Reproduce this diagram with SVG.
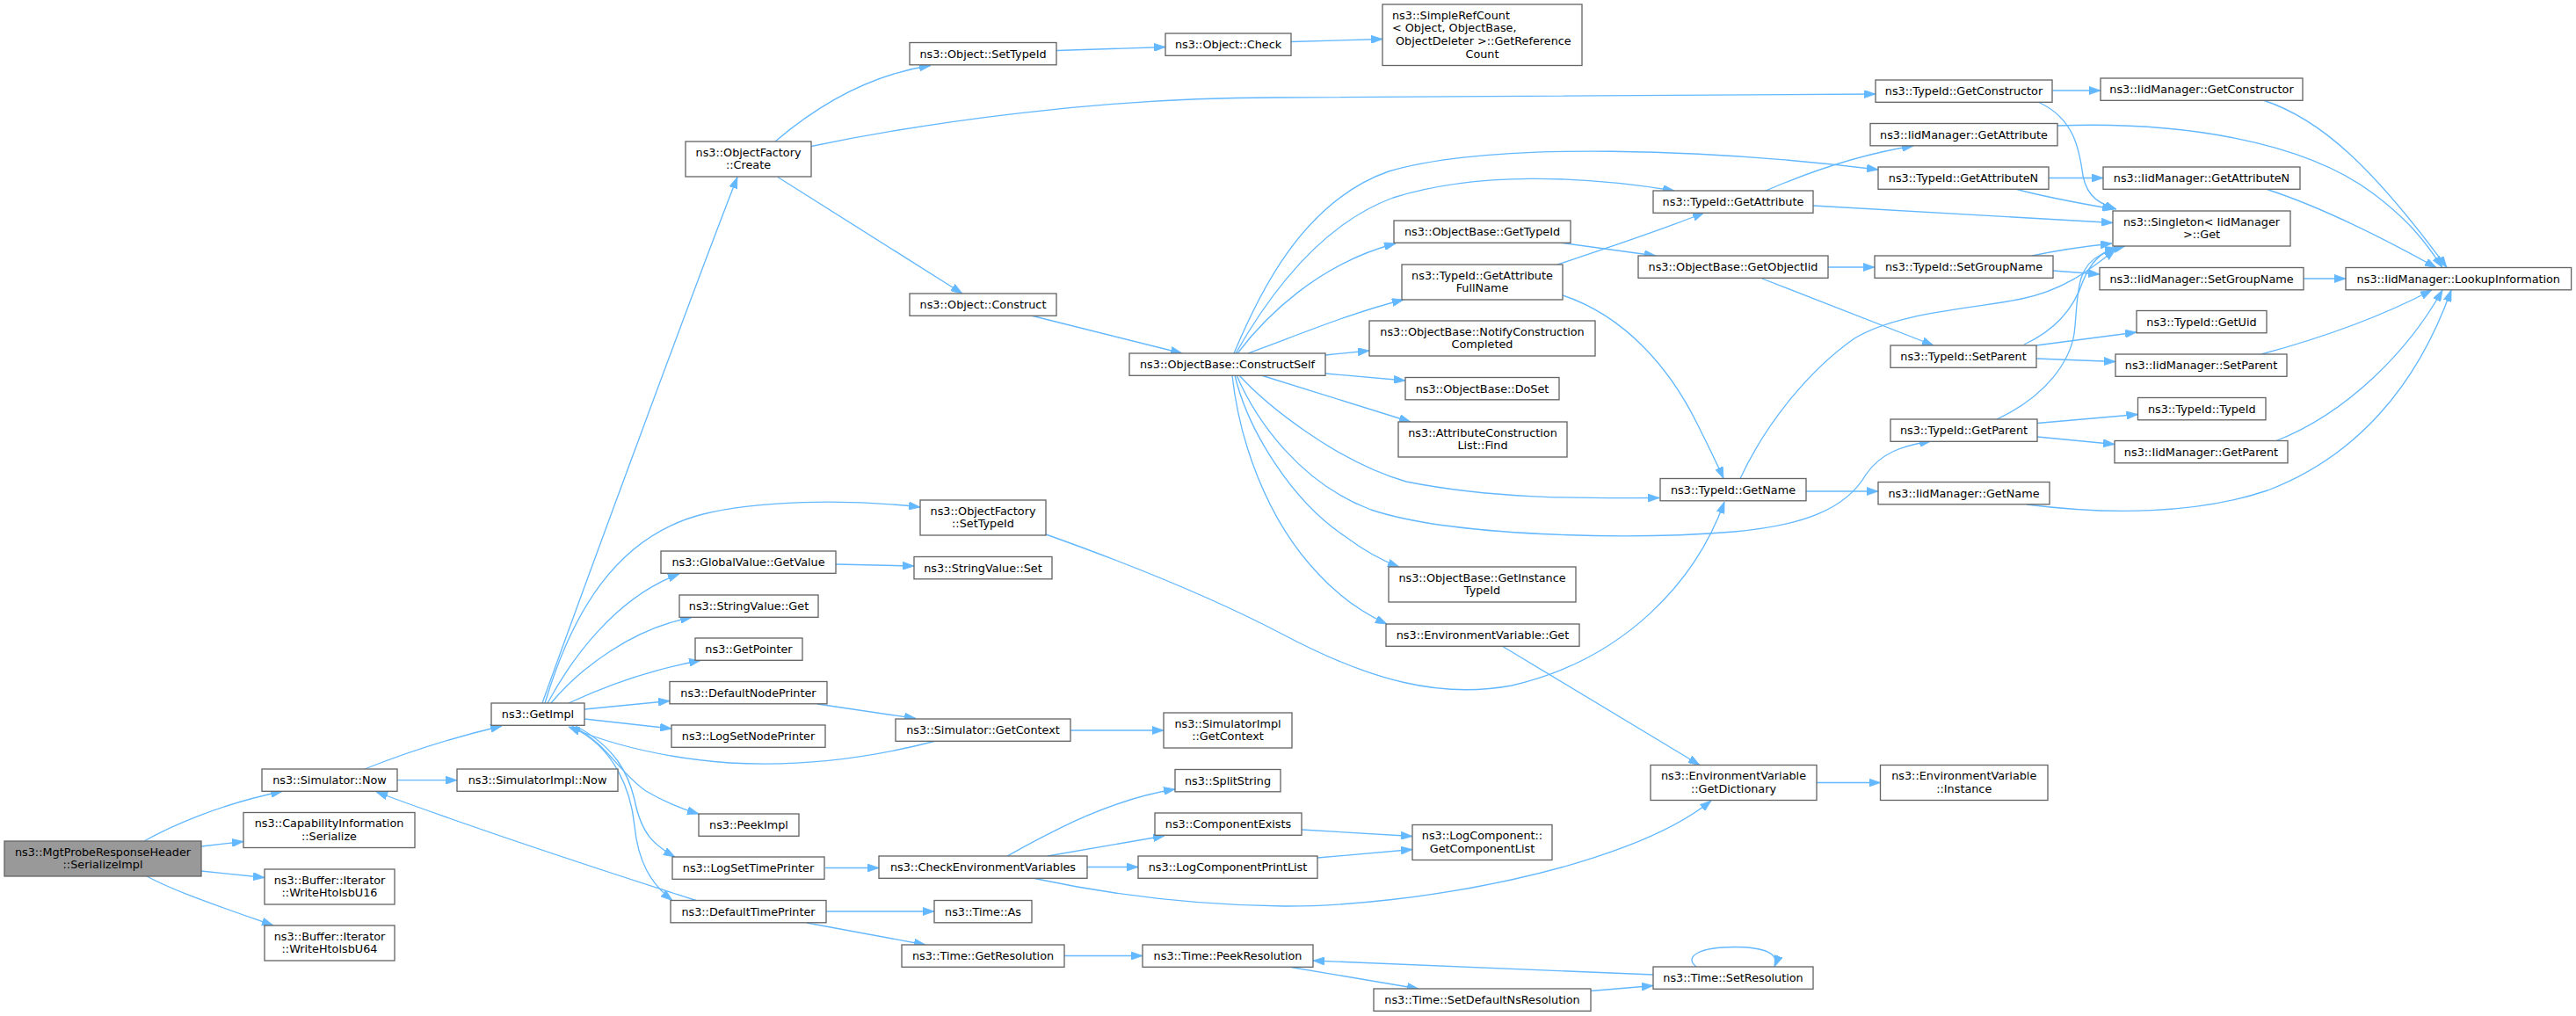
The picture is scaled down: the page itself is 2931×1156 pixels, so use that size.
<svg xmlns="http://www.w3.org/2000/svg" width="2931" height="1156" viewBox="0 0 2931 1156">
<defs>
<style>
.n rect{fill:#ffffff;stroke:#666666;stroke-width:1.33}
.root rect{fill:#999999}
text{font-family:"DejaVu Sans","Liberation Sans",sans-serif;font-size:12.8px;fill:#000000;text-anchor:middle}
text.l{text-anchor:start}
.e path{fill:none;stroke:#63b8ff;stroke-width:1.33;marker-end:url(#ah)}
</style>
<marker id="ah" viewBox="0 0 10 7" refX="10" refY="3.5" markerUnits="userSpaceOnUse" markerWidth="13" markerHeight="9.1" orient="auto">
<path d="M0,0 L10,3.5 L0,7 z" fill="#63b8ff" stroke="#63b8ff" stroke-width="0.6"/>
</marker>
</defs>
<rect x="0" y="0" width="2931" height="1156" fill="#ffffff"/>
<g id="edges" class="e">
<path d="M164,957 C194,940 250,915 321,900.5"/>
<path d="M229,963 L277,957.5"/>
<path d="M229,991 L301,998.5"/>
<path d="M167,997 C200,1015 260,1035 311,1053"/>
<path d="M415,875 C460,857 520,838 571,826"/>
<path d="M452,887.7 L520,887.7"/>
<path d="M617,800 C660,680 800,300 839,201.5"/>
<path d="M620,800 C650,700 700,610 800,585 C860,570 960,567 1047,577"/>
<path d="M623,800 C650,750 700,680 773,653"/>
<path d="M627,800 C660,760 720,715 787,702.5"/>
<path d="M647,800 C690,780 740,762 797,751.5"/>
<path d="M665,807 L762,797.5"/>
<path d="M665,818 L764,829"/>
<path d="M1063,843.5 C980,865 900,872 830,868 C750,862 690,845 647,827"/>
<path d="M651,826 C690,845 705,880 735,900 C755,912 775,920 795,926"/>
<path d="M655,826 C700,850 715,880 722,910 C730,950 745,962 768,975"/>
<path d="M650,827 C700,850 718,900 722,940 C726,980 740,1005 765,1024.5"/>
<path d="M792,1024.5 C700,995 560,950 428,901"/>
<path d="M882,161 C930,120 990,85 1059,74.5"/>
<path d="M923,166.5 C1050,140 1250,111 1450,111 C1700,111 1950,108 2134,107"/>
<path d="M885,201.5 L1095,334"/>
<path d="M1202,57.5 L1326,53.5"/>
<path d="M1469,47.5 L1573,44.5"/>
<path d="M1173,359 L1345,402"/>
<path d="M1404,402 C1430,340 1480,230 1580,195 C1700,160 1950,170 2137,193"/>
<path d="M1406,402 C1430,360 1490,260 1585,225 C1680,195 1800,200 1905,217"/>
<path d="M1408,402 C1440,360 1500,300 1588,277"/>
<path d="M1420,402 C1480,380 1540,355 1597,341"/>
<path d="M1508,404 L1558,399"/>
<path d="M1508,425 L1599,433"/>
<path d="M1435,427 C1500,447 1560,466 1605,480"/>
<path d="M1410,427 C1440,460 1520,525 1600,548 C1700,568 1800,567 1888,566.5"/>
<path d="M1407,427 C1430,480 1480,550 1560,580 C1650,610 1850,615 1973,605 C2050,598 2100,580 2123,540 C2140,515 2165,507 2197,502"/>
<path d="M1405,427 C1420,490 1470,570 1530,610 C1550,625 1570,637 1592,645"/>
<path d="M1402,427 C1410,500 1440,590 1500,653 C1525,680 1550,697 1578,710"/>
<path d="M1190,608 C1280,640 1380,680 1460,722 C1560,775 1640,795 1720,780 C1850,750 1930,660 1962,571"/>
<path d="M1772,301 C1820,285 1890,262 1939,242"/>
<path d="M1778,336 C1850,360 1900,420 1930,480 C1945,510 1955,530 1961,544.5"/>
<path d="M1774,276 L1884,291"/>
<path d="M2009,217 C2060,195 2120,175 2177,166"/>
<path d="M2063,234 L2404,253.5"/>
<path d="M2080,304 L2133,304"/>
<path d="M2005,317 L2200,393"/>
<path d="M2055,559 L2137,559"/>
<path d="M1980,544.5 C2010,480 2060,420 2110,385 C2160,355 2240,352 2300,340 C2350,330 2380,305 2407,284"/>
<path d="M2320,116.5 C2360,135 2366,170 2370,200 C2375,225 2390,232 2408,238"/>
<path d="M2293,215 C2330,225 2370,232 2405,238"/>
<path d="M2312,291 C2340,285 2375,280 2403,277"/>
<path d="M2303,392 C2340,375 2360,350 2370,320 C2380,295 2395,285 2408,282"/>
<path d="M2272,477 C2330,450 2355,410 2360,380 C2365,340 2360,305 2390,290 C2400,284 2410,282 2418,280"/>
<path d="M2317,393 L2431,378"/>
<path d="M2317,408 L2407,411.5"/>
<path d="M2318,481.5 L2432.5,471.5"/>
<path d="M2318,497 L2406,505.5"/>
<path d="M2335.5,103 L2390,103"/>
<path d="M2331,202.5 L2393,202.5"/>
<path d="M2336,308 L2389,312"/>
<path d="M2306,574 C2400,586 2500,585 2580,558 C2680,520 2750,440 2789,330"/>
<path d="M2575,114 C2640,135 2700,190 2784,304.5"/>
<path d="M2341,143 C2480,138 2620,160 2700,220 C2740,250 2760,275 2779,304.5"/>
<path d="M2578,215 C2640,235 2710,270 2772,304.5"/>
<path d="M2621,317 L2669,317"/>
<path d="M2573,403 C2640,385 2710,360 2767,330"/>
<path d="M2590,501.5 C2670,470 2740,400 2779,330"/>
<path d="M951,642 L1040,644"/>
<path d="M930,801 L1042,817.5"/>
<path d="M1218,831 L1324,831"/>
<path d="M939,987.5 L1000,987.5"/>
<path d="M1146,974 C1190,950 1260,910 1337,898"/>
<path d="M1192,974 L1325,951"/>
<path d="M1237,986.5 L1295,986.5"/>
<path d="M1177,999.5 C1250,1015 1350,1030 1460,1031 C1600,1032 1850,990 1947,911"/>
<path d="M1481,944 L1607,951.5"/>
<path d="M1499,976 L1607,966.5"/>
<path d="M1709,735 L1934,870.5"/>
<path d="M2067,890.5 L2139.5,890.5"/>
<path d="M940,1037 L1063,1037"/>
<path d="M918,1050 L1053,1075"/>
<path d="M1211,1087.5 L1300,1087.5"/>
<path d="M1469,1100.5 L1614,1125"/>
<path d="M1810,1127.5 L1881,1121.5"/>
<path d="M1881,1109 L1494,1093"/>
<path d="M1930,1100 C1915,1088 1935,1077.5 1973,1077.5 C2008,1077.5 2025,1085 2019,1100"/>
</g>
<g id="n1" class="n root"><rect x="5" y="957" width="224" height="40"/><text x="117" y="973.5">ns3::MgtProbeResponseHeader</text><text x="117" y="988.2">::SerializeImpl</text></g>
<g id="n2" class="n"><rect x="298" y="875" width="154" height="25.3"/><text x="375" y="892">ns3::Simulator::Now</text></g>
<g id="n3" class="n"><rect x="277" y="924.5" width="195" height="40"/><text x="374.5" y="941">ns3::CapabilityInformation</text><text x="374.5" y="955.7">::Serialize</text></g>
<g id="n4" class="n"><rect x="301" y="989" width="148" height="40"/><text x="375" y="1005.5">ns3::Buffer::Iterator</text><text x="375" y="1020.2">::WriteHtolsbU16</text></g>
<g id="n5" class="n"><rect x="301" y="1053" width="148" height="40"/><text x="375" y="1069.5">ns3::Buffer::Iterator</text><text x="375" y="1084.2">::WriteHtolsbU64</text></g>
<g id="n6" class="n"><rect x="559" y="800" width="106" height="25.3"/><text x="612" y="817">ns3::GetImpl</text></g>
<g id="n7" class="n"><rect x="520" y="875" width="183" height="25.3"/><text x="611.5" y="892">ns3::SimulatorImpl::Now</text></g>
<g id="n8" class="n"><rect x="780" y="161" width="143" height="40"/><text x="851.5" y="177.5">ns3::ObjectFactory</text><text x="851.5" y="192.2">::Create</text></g>
<g id="n9" class="n"><rect x="752" y="627" width="199" height="25.3"/><text x="851.5" y="644">ns3::GlobalValue::GetValue</text></g>
<g id="n10" class="n"><rect x="773" y="677" width="158" height="25.3"/><text x="852" y="694">ns3::StringValue::Get</text></g>
<g id="n11" class="n"><rect x="791" y="726" width="122" height="25.3"/><text x="852" y="743">ns3::GetPointer</text></g>
<g id="n12" class="n"><rect x="762" y="775.5" width="179" height="25.3"/><text x="851.5" y="792.5">ns3::DefaultNodePrinter</text></g>
<g id="n13" class="n"><rect x="764" y="825" width="175" height="25.3"/><text x="851.5" y="842">ns3::LogSetNodePrinter</text></g>
<g id="n14" class="n"><rect x="795" y="926" width="114" height="25.3"/><text x="852" y="943">ns3::PeekImpl</text></g>
<g id="n15" class="n"><rect x="765" y="975" width="173" height="25.3"/><text x="851.5" y="992">ns3::LogSetTimePrinter</text></g>
<g id="n16" class="n"><rect x="763" y="1024.5" width="177" height="25.3"/><text x="851.5" y="1041.5">ns3::DefaultTimePrinter</text></g>
<g id="n17" class="n"><rect x="1035" y="48.5" width="167" height="25.3"/><text x="1118.5" y="65.5">ns3::Object::SetTypeId</text></g>
<g id="n18" class="n"><rect x="1035" y="334" width="167" height="25.3"/><text x="1118.5" y="351">ns3::Object::Construct</text></g>
<g id="n19" class="n"><rect x="1047" y="569" width="143" height="40"/><text x="1118.5" y="585.5">ns3::ObjectFactory</text><text x="1118.5" y="600.2">::SetTypeId</text></g>
<g id="n20" class="n"><rect x="1040" y="633.5" width="157" height="25.3"/><text x="1118.5" y="650.5">ns3::StringValue::Set</text></g>
<g id="n21" class="n"><rect x="1019" y="818" width="199" height="25.3"/><text x="1118.5" y="835">ns3::Simulator::GetContext</text></g>
<g id="n22" class="n"><rect x="1000" y="974" width="237" height="25.3"/><text x="1118.5" y="991">ns3::CheckEnvironmentVariables</text></g>
<g id="n23" class="n"><rect x="1063" y="1024.5" width="111" height="25.3"/><text x="1118.5" y="1041.5">ns3::Time::As</text></g>
<g id="n24" class="n"><rect x="1026" y="1075" width="185" height="25.3"/><text x="1118.5" y="1092">ns3::Time::GetResolution</text></g>
<g id="n25" class="n"><rect x="1326" y="38" width="143" height="25.3"/><text x="1397.5" y="55">ns3::Object::Check</text></g>
<g id="n26" class="n"><rect x="1285" y="402" width="223" height="25.3"/><text x="1396.5" y="419">ns3::ObjectBase::ConstructSelf</text></g>
<g id="n27" class="n"><rect x="1324" y="811" width="146" height="40"/><text x="1397" y="827.5">ns3::SimulatorImpl</text><text x="1397" y="842.2">::GetContext</text></g>
<g id="n28" class="n"><rect x="1337" y="875.5" width="120" height="25.3"/><text x="1397" y="892.5">ns3::SplitString</text></g>
<g id="n29" class="n"><rect x="1314" y="925" width="167" height="25.3"/><text x="1397.5" y="942">ns3::ComponentExists</text></g>
<g id="n30" class="n"><rect x="1295" y="974" width="204" height="25.3"/><text x="1397" y="991">ns3::LogComponentPrintList</text></g>
<g id="n31" class="n"><rect x="1300" y="1075" width="194" height="25.3"/><text x="1397" y="1092">ns3::Time::PeekResolution</text></g>
<g id="n32" class="n"><rect x="1573" y="5" width="227" height="69.5"/><text class="l" x="1584" y="21.5">ns3::SimpleRefCount</text><text class="l" x="1584" y="36.2">&lt; Object, ObjectBase,</text><text class="l" x="1588" y="50.9">ObjectDeleter &gt;::GetReference</text><text x="1686.5" y="65.6">Count</text></g>
<g id="n33" class="n"><rect x="1586" y="251" width="201" height="25.3"/><text x="1686.5" y="268">ns3::ObjectBase::GetTypeId</text></g>
<g id="n34" class="n"><rect x="1595" y="301" width="183" height="40"/><text x="1686.5" y="317.5">ns3::TypeId::GetAttribute</text><text x="1686.5" y="332.2">FullName</text></g>
<g id="n35" class="n"><rect x="1558" y="365" width="257" height="40"/><text x="1686.5" y="381.5">ns3::ObjectBase::NotifyConstruction</text><text x="1686.5" y="396.2">Completed</text></g>
<g id="n36" class="n"><rect x="1599" y="429.5" width="175" height="25.3"/><text x="1686.5" y="446.5">ns3::ObjectBase::DoSet</text></g>
<g id="n37" class="n"><rect x="1591" y="480" width="192" height="40"/><text x="1687" y="496.5">ns3::AttributeConstruction</text><text x="1687" y="511.2">List::Find</text></g>
<g id="n38" class="n"><rect x="1580" y="645" width="213" height="40"/><text x="1686.5" y="661.5">ns3::ObjectBase::GetInstance</text><text x="1686.5" y="676.2">TypeId</text></g>
<g id="n39" class="n"><rect x="1577" y="710" width="220" height="25.3"/><text x="1687" y="727">ns3::EnvironmentVariable::Get</text></g>
<g id="n40" class="n"><rect x="1607" y="938.5" width="159" height="40"/><text x="1686.5" y="955">ns3::LogComponent::</text><text x="1686.5" y="969.7">GetComponentList</text></g>
<g id="n41" class="n"><rect x="1563" y="1125" width="247" height="25.3"/><text x="1686.5" y="1142">ns3::Time::SetDefaultNsResolution</text></g>
<g id="n42" class="n"><rect x="1881" y="217" width="182" height="25.3"/><text x="1972" y="234">ns3::TypeId::GetAttribute</text></g>
<g id="n43" class="n"><rect x="1864" y="291" width="216" height="25.3"/><text x="1972" y="308">ns3::ObjectBase::GetObjectIid</text></g>
<g id="n44" class="n"><rect x="1889" y="544.5" width="166" height="25.3"/><text x="1972" y="561.5">ns3::TypeId::GetName</text></g>
<g id="n45" class="n"><rect x="1878" y="870.5" width="189" height="40"/><text x="1972.5" y="887">ns3::EnvironmentVariable</text><text x="1972.5" y="901.7">::GetDictionary</text></g>
<g id="n46" class="n"><rect x="1881" y="1100" width="182" height="25.3"/><text x="1972" y="1117">ns3::Time::SetResolution</text></g>
<g id="n47" class="n"><rect x="2134" y="91" width="201" height="25.3"/><text x="2234.5" y="108">ns3::TypeId::GetConstructor</text></g>
<g id="n48" class="n"><rect x="2128" y="140.5" width="213" height="25.3"/><text x="2234.5" y="157.5">ns3::IidManager::GetAttribute</text></g>
<g id="n49" class="n"><rect x="2137" y="190" width="194" height="25.3"/><text x="2234" y="207">ns3::TypeId::GetAttributeN</text></g>
<g id="n50" class="n"><rect x="2133" y="291" width="203" height="25.3"/><text x="2234.5" y="308">ns3::TypeId::SetGroupName</text></g>
<g id="n51" class="n"><rect x="2151" y="393" width="166" height="25.3"/><text x="2234" y="410">ns3::TypeId::SetParent</text></g>
<g id="n52" class="n"><rect x="2151" y="477" width="167" height="25.3"/><text x="2234.5" y="494">ns3::TypeId::GetParent</text></g>
<g id="n53" class="n"><rect x="2137" y="548.5" width="195" height="25.3"/><text x="2234.5" y="565.5">ns3::IidManager::GetName</text></g>
<g id="n54" class="n"><rect x="2139.5" y="870.5" width="190.5" height="40"/><text x="2234.75" y="887">ns3::EnvironmentVariable</text><text x="2234.75" y="901.7">::Instance</text></g>
<g id="n55" class="n"><rect x="2390" y="89" width="230" height="25.3"/><text x="2505" y="106">ns3::IidManager::GetConstructor</text></g>
<g id="n56" class="n"><rect x="2393" y="190" width="224" height="25.3"/><text x="2505" y="207">ns3::IidManager::GetAttributeN</text></g>
<g id="n57" class="n"><rect x="2404" y="240" width="202" height="40"/><text x="2505" y="256.5">ns3::Singleton&lt; IidManager</text><text x="2505" y="271.2">&gt;::Get</text></g>
<g id="n58" class="n"><rect x="2389" y="304.5" width="232" height="25.3"/><text x="2505" y="321.5">ns3::IidManager::SetGroupName</text></g>
<g id="n59" class="n"><rect x="2431" y="353.5" width="148" height="25.3"/><text x="2505" y="370.5">ns3::TypeId::GetUid</text></g>
<g id="n60" class="n"><rect x="2407" y="403" width="195" height="25.3"/><text x="2504.5" y="420">ns3::IidManager::SetParent</text></g>
<g id="n61" class="n"><rect x="2432.5" y="452.5" width="145.5" height="25.3"/><text x="2505.25" y="469.5">ns3::TypeId::TypeId</text></g>
<g id="n62" class="n"><rect x="2406" y="501.5" width="197" height="25.3"/><text x="2504.5" y="518.5">ns3::IidManager::GetParent</text></g>
<g id="n63" class="n"><rect x="2669" y="304.5" width="256.6" height="25.3"/><text x="2797.3" y="321.5">ns3::IidManager::LookupInformation</text></g>
</svg>
